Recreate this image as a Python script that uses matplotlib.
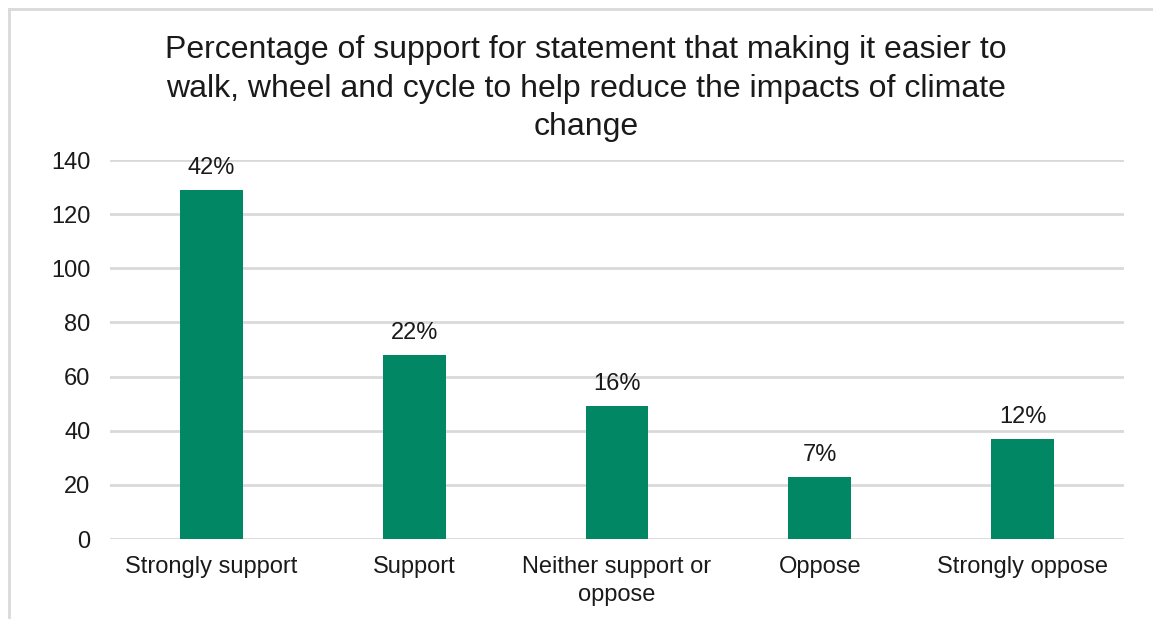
import matplotlib
matplotlib.use("Agg")
from matplotlib import pyplot as plt
from matplotlib.lines import Line2D

categories = ["Strongly support", "Support", "Neither support or\noppose", "Oppose", "Strongly oppose"]
counts = [129, 68, 49, 23, 37]
pct_labels = ["42%", "22%", "16%", "7%", "12%"]
yticks = [0, 20, 40, 60, 80, 100, 120, 140]

plt.rcParams['font.family'] = ['Liberation Sans', 'DejaVu Sans']

fig = plt.figure(figsize=(11.53, 6.19), dpi=100)
ax = fig.add_axes([0.0954, 0.1292, 0.8795, 0.6123])

x = list(range(len(categories)))
bars = ax.bar(x, counts, width=0.31, color="#018763", zorder=3)

for b, lab in zip(bars, pct_labels):
    ax.annotate(lab, (b.get_x() + b.get_width() / 2, b.get_height()),
                xytext=(0, 8), textcoords="offset points",
                ha="center", va="bottom", fontsize=17, color="#1a1a1a")

ax.set_xlim(-0.5, 4.5)
ax.set_ylim(0, 140)
ax.set_yticks(yticks)
ax.set_xticks(x)
ax.set_xticklabels(categories, fontsize=17, color="#1a1a1a", linespacing=1.4)
ax.tick_params(axis="y", labelsize=17, colors="#1a1a1a", length=0, pad=14)
ax.tick_params(axis="x", length=0, pad=12)
ax.grid(axis="y", color="#d9d9d9", linewidth=2, zorder=0)
for s in ax.spines.values():
    s.set_visible(False)

fig.text(586 / 1153, 1 - 35 / 619,
         "Percentage of support for statement that making it easier to\n"
         "walk, wheel and cycle to help reduce the impacts of climate\nchange",
         ha="center", va="top", fontsize=23, color="#1a1a1a", linespacing=1.38,
         transform=fig.transFigure)

# light frame along the top and left edges
fig.add_artist(Line2D([9 / 1153, 1], [1 - 9 / 619, 1 - 9 / 619], color="#d9d9d9", lw=2))
fig.add_artist(Line2D([9 / 1153, 9 / 1153], [0, 1 - 9 / 619], color="#d9d9d9", lw=2))

fig.savefig("out.png", dpi=100)
